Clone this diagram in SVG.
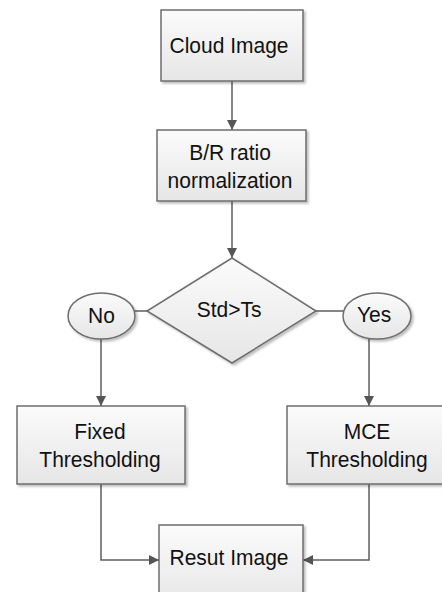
<svg xmlns="http://www.w3.org/2000/svg" width="442" height="592" viewBox="0 0 442 592">
<defs>
<linearGradient id="g" x1="0" y1="0" x2="0" y2="1">
<stop offset="0" stop-color="#fbfbfb"/>
<stop offset="1" stop-color="#e6e6e6"/>
</linearGradient>
<marker id="arr" viewBox="0 0 10 10" refX="10" refY="5" markerWidth="10" markerHeight="10" markerUnits="userSpaceOnUse" orient="auto">
<path d="M0,0 L10,5 L0,10 Z" fill="#555"/>
</marker>
<filter id="sh" x="-10%" y="-10%" width="130%" height="130%">
<feDropShadow dx="2" dy="2" stdDeviation="1.2" flood-color="#000" flood-opacity="0.25"/>
</filter>
</defs>
<style>
.box{fill:url(#g);stroke:#6e6e6e;stroke-width:1.5;filter:url(#sh)}
.ln{fill:none;stroke:#5e5e5e;stroke-width:1.5}
.t{font-family:"Liberation Sans",Arial,sans-serif;font-size:21px;fill:#111;text-anchor:middle}
</style>
<rect width="442" height="592" fill="#fff"/>
<g id="connectors">
<line class="ln" x1="232" y1="81" x2="232" y2="130" marker-end="url(#arr)"/>
<line class="ln" x1="232" y1="201" x2="232" y2="258" marker-end="url(#arr)"/>
<line class="ln" x1="147" y1="311" x2="135" y2="311"/>
<line class="ln" x1="101" y1="339" x2="101" y2="406" marker-end="url(#arr)"/>
<line class="ln" x1="316" y1="311" x2="343" y2="311"/>
<line class="ln" x1="369" y1="339" x2="369" y2="406" marker-end="url(#arr)"/>
<polyline class="ln" points="101,484 101,560 159,560" marker-end="url(#arr)"/>
<polyline class="ln" points="369,484 369,560 303,560" marker-end="url(#arr)"/>
</g>
<g id="cloud">
<rect class="box" x="161" y="10" width="142" height="71"/>
<text class="t" transform="translate(229,53) scale(1,1.08)">Cloud Image</text>
</g>
<g id="normalization">
<rect class="box" x="157" y="130" width="149" height="71"/>
<text class="t" transform="translate(230,160) scale(1,1.08)">B/R ratio</text>
<text class="t" transform="translate(230,188) scale(1,1.08)">normalization</text>
</g>
<g id="decision">
<polygon class="box" points="232,258 316,311 232,363 147,311"/>
<text class="t" transform="translate(229,317) scale(1,1.08)">Std&gt;Ts</text>
</g>
<g id="no">
<ellipse class="box" cx="101.5" cy="316" rx="33.5" ry="23"/>
<text class="t" transform="translate(101.5,323) scale(1,1.08)">No</text>
</g>
<g id="yes">
<ellipse class="box" cx="377" cy="316" rx="34" ry="23"/>
<text class="t" transform="translate(374,322) scale(1,1.08)">Yes</text>
</g>
<g id="fixed">
<rect class="box" x="17" y="406" width="168" height="78"/>
<text class="t" transform="translate(100,439) scale(1,1.08)">Fixed</text>
<text class="t" transform="translate(100,467) scale(1,1.08)">Thresholding</text>
</g>
<g id="mce">
<rect class="box" x="287" y="406" width="164" height="78"/>
<text class="t" transform="translate(367,439) scale(1,1.08)">MCE</text>
<text class="t" transform="translate(367,467) scale(1,1.08)">Thresholding</text>
</g>
<g id="result">
<rect class="box" x="159" y="525" width="144" height="80"/>
<text class="t" transform="translate(229,565) scale(1,1.08)">Resut Image</text>
</g>
</svg>
